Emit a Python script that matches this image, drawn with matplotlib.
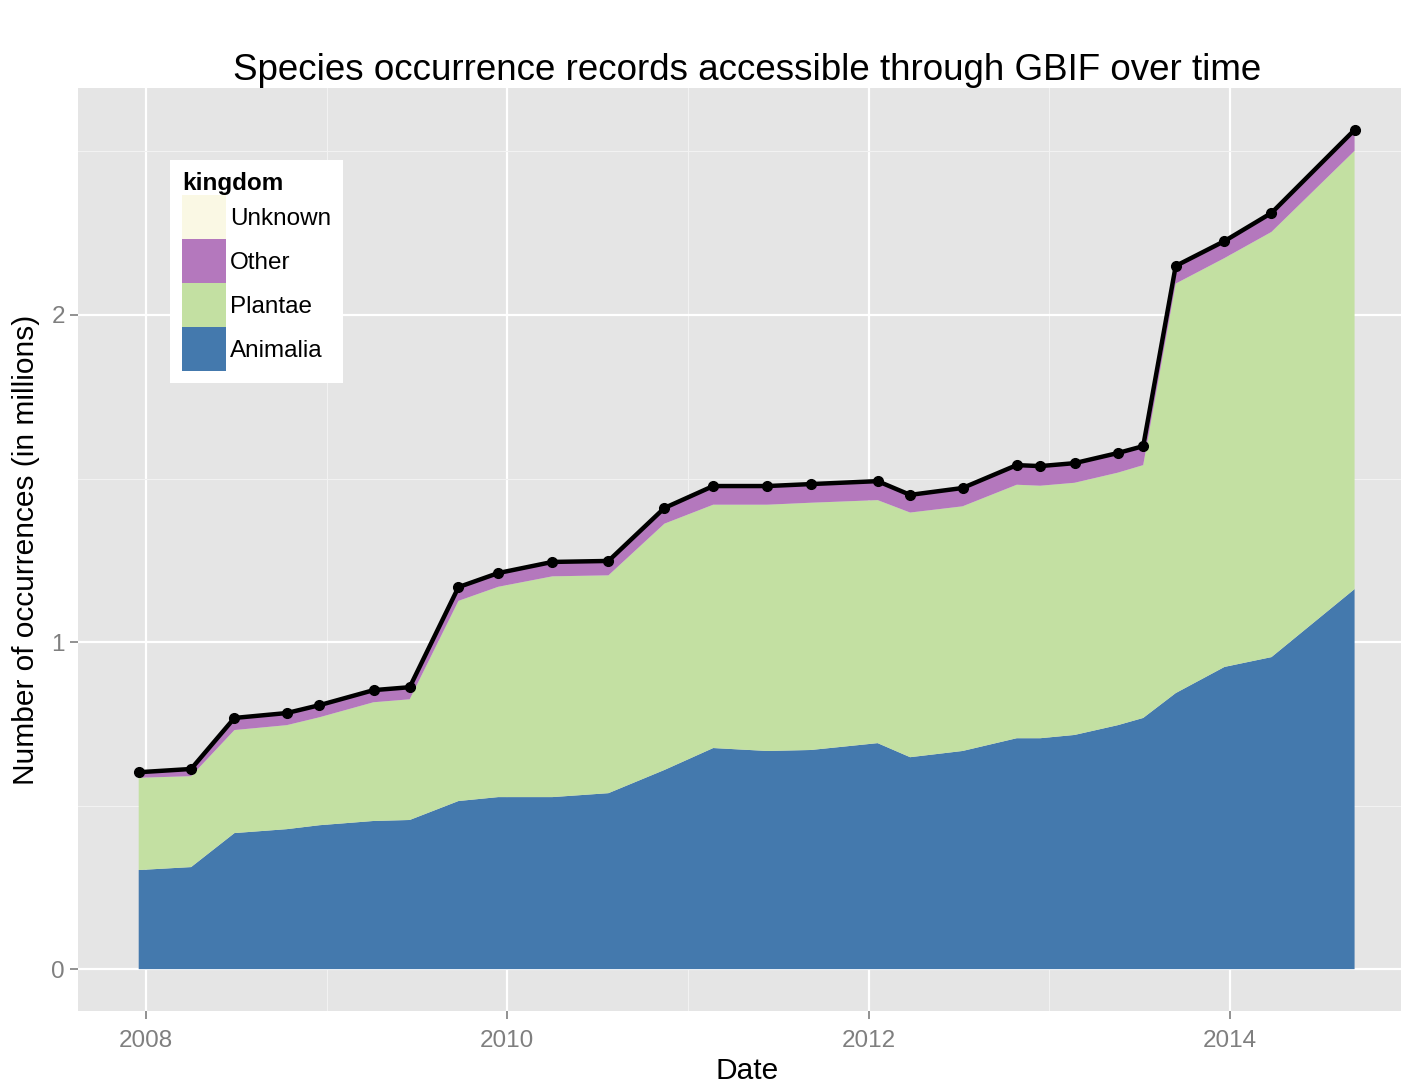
import numpy as np
import matplotlib
matplotlib.use('Agg')
import matplotlib.pyplot as plt
from matplotlib.patches import Patch

plt.rcParams['font.family'] = ['Liberation Sans', 'DejaVu Sans']

# snapshot dates (decimal years) and records per kingdom (millions)
year = [2007.96, 2008.25, 2008.49, 2008.78, 2008.96, 2009.26, 2009.46, 2009.73, 2009.95,
        2010.25, 2010.56, 2010.87, 2011.14, 2011.44, 2011.68, 2012.05, 2012.23, 2012.52,
        2012.82, 2012.95, 2013.14, 2013.38, 2013.52, 2013.70, 2013.97, 2014.23, 2014.69]
animalia = [0.303, 0.312, 0.416, 0.428, 0.440, 0.453, 0.456, 0.514, 0.526,
            0.526, 0.538, 0.609, 0.676, 0.667, 0.670, 0.691, 0.648, 0.667,
            0.706, 0.706, 0.716, 0.746, 0.768, 0.844, 0.924, 0.954, 1.162]
plantae = [0.282, 0.278, 0.315, 0.318, 0.330, 0.363, 0.369, 0.612, 0.643,
           0.675, 0.666, 0.753, 0.744, 0.753, 0.756, 0.743, 0.748, 0.748,
           0.775, 0.772, 0.771, 0.772, 0.773, 1.252, 1.250, 1.300, 1.340]
other = [0.015, 0.020, 0.035, 0.035, 0.035, 0.035, 0.035, 0.040, 0.040,
         0.042, 0.042, 0.046, 0.055, 0.055, 0.055, 0.056, 0.052, 0.054,
         0.058, 0.058, 0.058, 0.058, 0.056, 0.052, 0.050, 0.056, 0.062]
unknown = [0.002] * len(year)

kingdoms = ['Animalia', 'Plantae', 'Other', 'Unknown']
colors = ['#4479ad', '#c3e0a2', '#b478bd', '#faf8e4']

total = np.array(animalia) + np.array(plantae) + np.array(other) + np.array(unknown)

fig = plt.figure(figsize=(14.01, 10.84), dpi=100)
ax = fig.add_axes([78 / 1401, 1 - 1011 / 1084, 1338 / 1401, 923 / 1084])
ax.set_facecolor('#e5e5e5')

ax.stackplot(year, animalia, plantae, other, unknown, colors=colors, zorder=2)
ax.plot(year, total, color='black', lw=3.2, marker='o', ms=7, zorder=3)

ax.set_xlim(2007.624, 2015.03)
ax.set_ylim(-0.128, 2.694)
ax.set_xticks([2008, 2010, 2012, 2014])
ax.set_xticks([2009, 2011, 2013], minor=True)
ax.set_yticks([0, 1, 2])
ax.set_yticks([0.5, 1.5, 2.5], minor=True)
ax.grid(which='major', color='white', lw=1.6)
ax.grid(which='minor', color='#f2f2f2', lw=0.8)
ax.set_axisbelow(True)
for s in ax.spines.values():
    s.set_visible(False)
ax.tick_params(which='major', colors='#7f7f7f', labelsize=17.5, length=5.5, width=1.2, pad=4)
ax.tick_params(axis='x', which='major', pad=8)
ax.tick_params(which='minor', length=0)

ax.set_title('Species occurrence records accessible through GBIF over time', fontsize=26.5, pad=4)
ax.set_xlabel('Date', fontsize=21.5, labelpad=4)
ax.set_ylabel('Number of occurrences (in millions)', fontsize=21.5, labelpad=8)

handles = [Patch(facecolor=c, edgecolor='none') for c in colors][::-1]
leg = ax.legend(handles, kingdoms[::-1], title='kingdom', loc='upper left',
                bbox_to_anchor=(92 / 1338, 851 / 923), borderaxespad=0,
                fontsize=17.5, title_fontproperties={'weight': 'bold', 'size': 17.5},
                handlelength=1.81, handleheight=2.41, labelspacing=0, handletextpad=0.15,
                borderpad=0.5, frameon=True, fancybox=False, alignment='left')
leg.get_frame().set_edgecolor('none')
leg.get_frame().set_facecolor('white')
leg.get_frame().set_alpha(1)

plt.savefig('out.png', dpi=100)
